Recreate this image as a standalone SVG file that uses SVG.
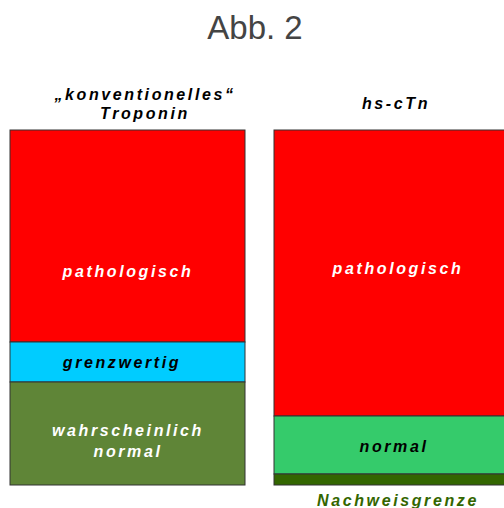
<svg xmlns="http://www.w3.org/2000/svg" width="504" height="508" viewBox="0 0 504 508">
<style>
.t{font-family:"Liberation Sans",Arial,sans-serif;font-weight:bold;font-style:italic;font-size:16px;letter-spacing:2.6px;text-anchor:middle}
.seg{stroke:#333;stroke-width:1}
</style>
<rect width="504" height="508" fill="#fff"/>
<text x="255" y="39" font-family="'Liberation Sans',Arial,sans-serif" font-size="33" fill="#444" text-anchor="middle">Abb. 2</text>
<g id="left-header">
<text class="t" x="145" y="100" fill="#000">„konventionelles“</text>
<text class="t" x="145" y="119" fill="#000">Troponin</text>
</g>
<g id="right-header"><text class="t" x="396" y="109" fill="#000">hs-cTn</text></g>
<g id="left-pathologisch">
<rect class="seg" x="10" y="130" width="235" height="212" fill="#ff0000"/>
<text class="t" x="128" y="277" fill="#fff">pathologisch</text>
</g>
<g id="left-grenzwertig">
<rect class="seg" x="10" y="342" width="235" height="40" fill="#00ccff"/>
<text class="t" x="122" y="368" fill="#000">grenzwertig</text>
</g>
<g id="left-normal">
<rect class="seg" x="10" y="382" width="235" height="103" fill="#5f8537"/>
<text class="t" x="128" y="436" fill="#fff">wahrscheinlich</text>
<text class="t" x="128" y="457" fill="#fff">normal</text>
</g>
<g id="right-pathologisch">
<rect class="seg" x="274" y="130" width="240" height="286" fill="#ff0000"/>
<text class="t" x="398" y="274" fill="#fff">pathologisch</text>
</g>
<g id="right-normal">
<rect class="seg" x="274" y="416" width="240" height="58" fill="#35cb6b"/>
<text class="t" x="394" y="452" fill="#000">normal</text>
</g>
<g id="right-nachweis">
<rect class="seg" x="274" y="474" width="240" height="11" fill="#336600"/>
<text class="t" x="398" y="506" fill="#336600">Nachweisgrenze</text>
</g>
</svg>
